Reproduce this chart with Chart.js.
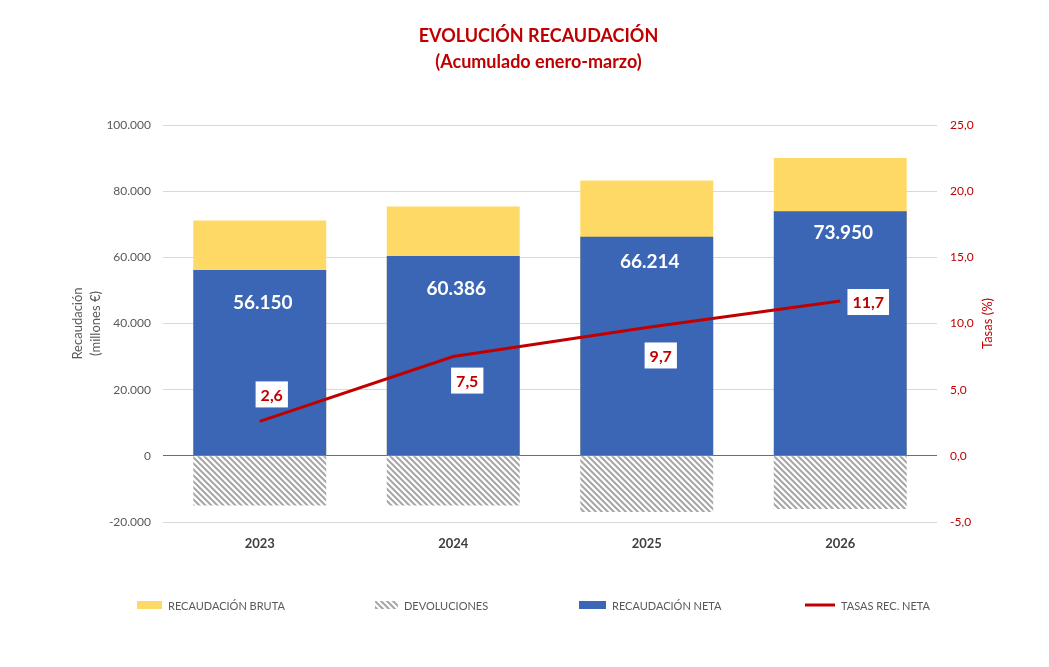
<!DOCTYPE html>
<html>
<head>
<meta charset="utf-8">
<title>Evolución recaudación</title>
<script src="https://cdn.jsdelivr.net/npm/chart.js@4.4.1/dist/chart.umd.min.js"></script>
<style>
  body { margin: 0; background: #fff; }
  #wrap { position: relative; width: 1049px; height: 667px; }
  #legend { position: absolute; left: 0; top: 597px; width: 1049px; height: 16px;
            font: 11px Lato, sans-serif; color: #595959; }
  .item { position: absolute; top: 0; display: flex; align-items: center; height: 16px; }
  .item canvas { margin-right: 6px; }
</style>
</head>
<body>
<div id="wrap">
  <canvas id="myChart" width="1049" height="667"></canvas>
  <div id="legend"></div>
</div>
<script>
// data
const years = ['2023', '2024', '2025', '2026'];
const recBruta = [71150, 75400, 83200, 90050];
const devoluciones = [-15000, -15000, -17000, -16100];
const recNeta = [56150, 60386, 66214, 73950];
const tasasNeta = [2.6, 7.5, 9.7, 11.7];
const leftTicks = { min: -20000, max: 100000, step: 20000 };
const rightTicks = { min: -5, max: 25, step: 5 };

const RED = '#C00000';
const BLUE = '#3A66B5';
const YELLOW = '#FFD966';
const GREY = '#595959';

function miles(v) {
  return String(v).replace(/\B(?=(\d{3})+(?!\d))/g, '.');
}
function coma(v) {
  return v.toFixed(1).replace('.', ',');
}

// hatch for devoluciones
function makeHatch() {
  const c = document.createElement('canvas');
  c.width = 6; c.height = 6;
  const g = c.getContext('2d');
  g.fillStyle = '#fff';
  g.fillRect(0, 0, 6, 6);
  g.strokeStyle = '#A6A6A6';
  g.lineWidth = 2;
  g.beginPath();
  g.moveTo(-1, -1); g.lineTo(7, 7);
  g.moveTo(-1, 5); g.lineTo(1, 7);
  g.moveTo(5, -1); g.lineTo(7, 1);
  g.stroke();
  return g.createPattern(c, 'repeat');
}
const hatch = makeHatch();

// labels on bars and on the line
const labelPlugin = {
  id: 'labels',
  afterDatasetsDraw(chart, args, opts) {
    const ctx = chart.ctx;
    ctx.save();
    // neta values
    const netaMeta = chart.getDatasetMeta(1);
    ctx.font = 'bold 19px Lato, sans-serif';
    ctx.fillStyle = '#fff';
    ctx.textAlign = 'center';
    ctx.textBaseline = 'middle';
    netaMeta.data.forEach((bar, i) => {
      ctx.fillText(miles(recNeta[i]), bar.x + 3, bar.y + opts.netaDy[i]);
    });
    // rate boxes
    const lineMeta = chart.getDatasetMeta(0);
    ctx.font = 'bold 16px Lato, sans-serif';
    lineMeta.data.forEach((pt, i) => {
      const txt = coma(tasasNeta[i]);
      const cx = pt.x + opts.rateOff[i][0];
      const cy = pt.y + opts.rateOff[i][1];
      const w = ctx.measureText(txt).width + 10;
      ctx.fillStyle = '#fff';
      ctx.fillRect(cx - w / 2, cy - 13, w, 26);
      ctx.fillStyle = RED;
      ctx.fillText(txt, cx, cy + 1);
    });
    ctx.restore();
  },
  afterDraw(chart) {
    // right axis title reads bottom to top
    const ctx = chart.ctx;
    const a = chart.chartArea;
    ctx.save();
    ctx.translate(988, (a.top + a.bottom) / 2);
    ctx.rotate(-Math.PI / 2);
    ctx.font = '13px Lato, sans-serif';
    ctx.fillStyle = RED;
    ctx.textAlign = 'center';
    ctx.textBaseline = 'middle';
    ctx.fillText('Tasas (%)', 0, 0);
    ctx.restore();
  }
};

const ctx = document.getElementById('myChart');

const chart = new Chart(ctx, {
  type: 'bar',
  data: {
    labels: years,
    datasets: [
      {
        type: 'line',
        label: 'TASAS REC. NETA',
        data: tasasNeta,
        yAxisID: 'y1',
        borderColor: RED,
        backgroundColor: RED,
        borderWidth: 3,
        pointRadius: 0,
        tension: 0,
        order: 0
      },
      {
        label: 'RECAUDACIÓN NETA',
        data: recNeta,
        backgroundColor: BLUE,
        yAxisID: 'y',
        order: 1
      },
      {
        label: 'RECAUDACIÓN BRUTA',
        data: recBruta,
        backgroundColor: YELLOW,
        yAxisID: 'y',
        order: 2
      },
      {
        label: 'DEVOLUCIONES',
        data: devoluciones,
        backgroundColor: hatch,
        yAxisID: 'y',
        order: 3
      }
    ]
  },
  options: {
    responsive: false,
    animation: false,
    layout: { padding: { left: 28, right: 0, top: 0, bottom: 0 } },
    datasets: {
      bar: { grouped: false, categoryPercentage: 0.687, barPercentage: 1 }
    },
    scales: {
      x: {
        grid: { display: false },
        border: { display: false },
        ticks: { color: '#404040', font: { family: 'Lato', size: 13, weight: 'bold' }, padding: 6 },
        afterFit(s) { s.height = 145; }
      },
      y: {
        position: 'left',
        min: leftTicks.min,
        max: leftTicks.max,
        border: { display: false },
        grid: {
          drawTicks: false,
          color: (c) => c.tick && c.tick.value === 0 ? '#4472C4' : '#D9D9D9'
        },
        ticks: {
          stepSize: leftTicks.step,
          color: GREY,
          font: { family: 'Lato', size: 12 },
          padding: 12,
          callback: (v) => miles(v)
        },
        title: {
          display: true,
          text: ['Recaudación', '(millones €)'],
          color: GREY,
          font: { family: 'Lato', size: 13, lineHeight: 1.35 },
          padding: { top: 41, bottom: 0 }
        },
        afterFit(s) { s.width = 135; }
      },
      y1: {
        position: 'right',
        min: rightTicks.min,
        max: rightTicks.max,
        border: { display: false },
        grid: { drawOnChartArea: false, drawTicks: false },
        ticks: {
          stepSize: rightTicks.step,
          color: RED,
          font: { family: 'Lato', size: 12 },
          padding: 13,
          callback: (v) => coma(v)
        },
        afterFit(s) { s.width = 112; }
      }
    },
    plugins: {
      legend: { display: false },
      tooltip: { enabled: false },
      title: {
        display: true,
        text: ['EVOLUCIÓN RECAUDACIÓN', '(Acumulado enero-marzo)'],
        color: RED,
        font: { family: 'Lato', size: 18, weight: 'bold', lineHeight: 1.45 },
        padding: { top: 23, bottom: 49.8 }
      },
      labels: {
        netaDy: [33, 33, 25, 22],
        rateOff: [[12, -27], [14, 24], [14, 28], [28, 1]]
      }
    }
  },
  plugins: [labelPlugin]
});

// legend below the chart, built from the datasets
const legendOrder = [2, 3, 1, 0];
const legendLeft = [137, 375, 579, 805];
const swatchW = [25, 23, 27, 30];
const legendBox = document.getElementById('legend');
legendOrder.forEach((di, k) => {
  const ds = chart.data.datasets[di];
  const item = document.createElement('div');
  item.className = 'item';
  item.style.left = legendLeft[k] + 'px';
  const sw = document.createElement('canvas');
  sw.width = swatchW[k]; sw.height = 8;
  const g = sw.getContext('2d');
  if (ds.type === 'line') {
    g.fillStyle = ds.borderColor;
    g.fillRect(0, 2.5, sw.width, 3);
  } else {
    g.fillStyle = ds.backgroundColor;
    g.fillRect(0, 0, sw.width, 8);
  }
  item.appendChild(sw);
  const t = document.createElement('span');
  t.textContent = ds.label;
  item.appendChild(t);
  legendBox.appendChild(item);
});
</script>
</body>
</html>
